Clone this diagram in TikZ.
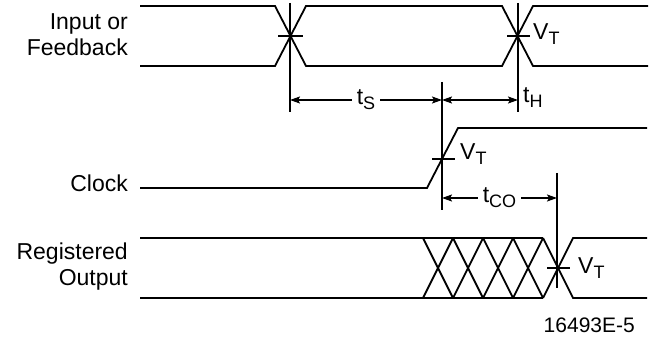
\documentclass[tikz,border=0pt]{standalone}
\usepackage{fontspec}
\setmainfont{Liberation Sans}
\usetikzlibrary{arrows.meta}
\newcommand{\lsub}[1]{\raisebox{-5pt}{\fontsize{18}{18}\selectfont #1}}
\tikzset{
  sig/.style={line width=1.8pt},
  dim/.style={line width=1.5pt, {Stealth[length=10pt,width=7pt,inset=2pt]}-{Stealth[length=10pt,width=7pt,inset=2pt]}},
  lbl/.style={font=\fontsize{23}{26}\selectfont, inner sep=0pt},
}
\begin{document}
\begin{tikzpicture}[x=1pt,y=-1pt]
    \useasboundingbox (0,0) rectangle (653,339);

    % Signal names
    \node[lbl, align=right, anchor=east] (inname) at (128,35) {Input or\\Feedback};
    \node[lbl, anchor=base east] (clkname) at (128,192) {Clock};
    \node[lbl, align=right, anchor=east] (outname) at (128,267) {Registered\\Output};

    % Input or Feedback
    \draw[sig] (140,6) -- (275,6) -- (306,66) -- (502,66) -- (533,6) -- (648,6);
    \draw[sig] (140,66) -- (275,66) -- (306,6) -- (502,6) -- (533,66) -- (648,66);
    \draw[sig] (290,3) -- (290,112) (278,36) -- (303,36);
    \draw[sig] (518,3) -- (518,112) (507,36) -- (530,36);
    \node[lbl, anchor=base west] (vtin) at (533,40) {V\lsub{T}};

    % Clock
    \draw[sig] (140,188) -- (427,188) -- (458,128) -- (647,128);
    \draw[sig] (442,82) -- (442,210) (432,159) -- (455,159);
    \node[lbl, anchor=base west] (vtclk) at (460,160) {V\lsub{T}};

    % Setup and hold
    \coordinate (setup) at (290,100);
    \coordinate (edge) at (442,100);
    \coordinate (hold) at (518,100);
    \draw[dim] (setup) -- node[lbl, fill=white, inner xsep=5pt] (ts) {t\lsub{S}} (edge);
    \draw[dim] (edge) -- (hold);
    \node[lbl, anchor=base west] (th) at (523,103) {t\lsub{H}};

    % Clock to output
    \coordinate (clkedge) at (442,198);
    \coordinate (outedge) at (557,198);
    \draw[dim] (clkedge) -- node[lbl, fill=white, inner xsep=5pt] (tco) {t\lsub{CO}} (outedge);
    \draw[sig] (557,173) -- (557,288);

    % Registered Output
    \draw[sig] (140,238) -- (543,238) (140,298) -- (543,298);
    \foreach \x in {423,453,483,513} {
        \draw[sig] (\x,238) -- (\x+30,298) (\x,298) -- (\x+30,238);
    }
    \draw[sig] (543,238) -- (573,298) -- (647,298);
    \draw[sig] (543,298) -- (573,238) -- (647,238);
    \draw[sig] (547,268) -- (570,268);
    \node[lbl, anchor=base west] (vtout) at (578,273) {V\lsub{T}};

    \node[lbl, font=\fontsize{21}{24}\selectfont, anchor=base east] (fig) at (635,332) {16493E-5};
\end{tikzpicture}
\end{document}
